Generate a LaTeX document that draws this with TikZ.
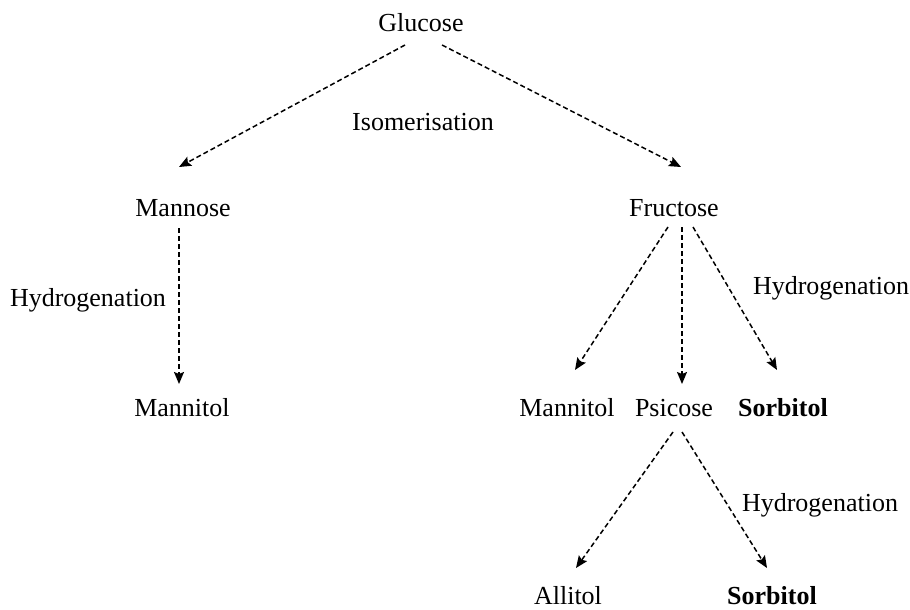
\documentclass[tikz,border=0pt]{standalone}
\usepackage{fontspec}
\setmainfont{Liberation Serif}
\usetikzlibrary{arrows.meta}
\begin{document}
\begin{tikzpicture}[x=1pt,y=-1pt,
  lbl/.style={inner sep=0pt,anchor=base,font=\fontsize{26}{30}\selectfont},
  blbl/.style={lbl,font=\fontsize{26}{30}\selectfont\bfseries},
  arr/.style={line width=1.5pt,dash pattern=on 5pt off 3pt,-{Stealth[length=12pt,width=10pt,inset=2pt]}}]
\useasboundingbox (0,0) rectangle (910,610);
\node[lbl] (glu) at (421,32) {Glucose};
\node[lbl] (iso) at (423,130) {Isomerisation};
\node[lbl] (man) at (183,216) {Mannose};
\node[lbl] (fru) at (674,216) {Fructose};
\node[lbl] (hydl) at (88,306) {Hydrogenation};
\node[lbl] (mtl) at (182,416) {Mannitol};
\node[lbl] (mtm) at (567,416) {Mannitol};
\node[lbl] (psi) at (674,416) {Psicose};
\node[blbl] (sor1) at (783,416) {Sorbitol};
\node[lbl] (hydr) at (831,294) {Hydrogenation};
\node[lbl] (hydb) at (820,511) {Hydrogenation};
\node[lbl] (all) at (568,604) {Allitol};
\node[blbl] (sor2) at (772,604) {Sorbitol};
\draw[arr] ([shift={(-16,13)}]glu.base) -- ([shift={(-4,-49)}]man.base);
\draw[arr] ([shift={(21,13)}]glu.base) -- ([shift={(7,-49)}]fru.base);
\draw[arr] ([shift={(-4,12)}]man.base) -- ([shift={(-3,-32)}]mtl.base);
\draw[arr] ([shift={(-6,11)}]fru.base) -- ([shift={(8,-46)}]mtm.base);
\draw[arr] ([shift={(8,11)}]fru.base) -- ([shift={(8,-32)}]psi.base);
\draw[arr] ([shift={(19,11)}]fru.base) -- ([shift={(-6,-46)}]sor1.base);
\draw[arr] ([shift={(-1,16)}]psi.base) -- ([shift={(8,-36)}]all.base);
\draw[arr] ([shift={(8,16)}]psi.base) -- ([shift={(-5,-36)}]sor2.base);
\end{tikzpicture}
\end{document}
